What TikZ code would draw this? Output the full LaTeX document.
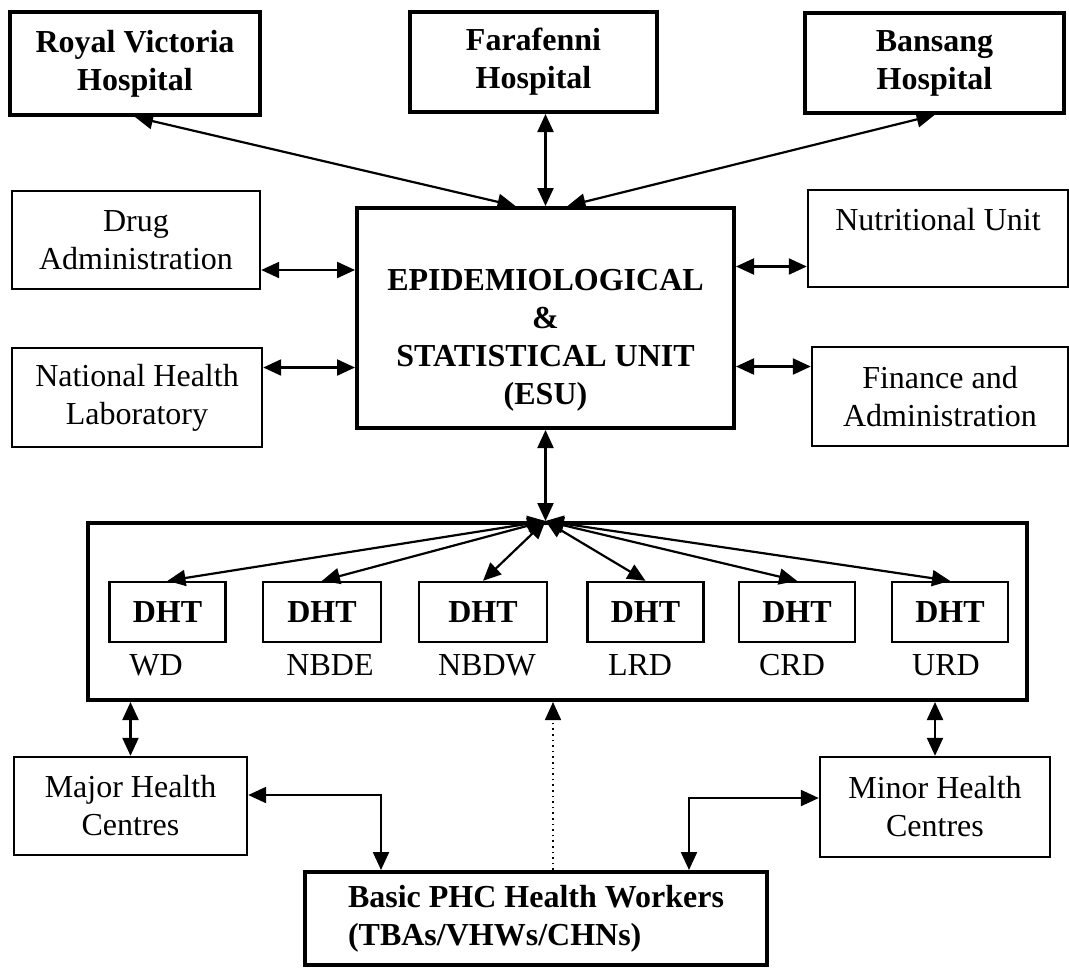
\documentclass[tikz,border=0pt]{standalone}
\usepackage{fontspec}
\setmainfont{Liberation Serif}
\usetikzlibrary{arrows.meta,calc}
\newcommand{\diagfont}{\fontsize{16}{19}\selectfont}
\tikzset{
  boldbox/.style={draw, line width=2pt, align=center, inner sep=0pt, font=\diagfont\bfseries},
  plainbox/.style={draw, line width=1.2pt, align=center, inner sep=0pt, font=\diagfont},
  dhtbox/.style={draw, line width=1.2pt, inner sep=0pt, minimum width=58pt, minimum height=30pt, font=\diagfont\bfseries},
  distlabel/.style={inner sep=0pt, font=\diagfont},
  link/.style={line width=1.1pt, {Triangle[length=9pt,width=8pt]}-{Triangle[length=9pt,width=8pt]}},
  uplink/.style={line width=0.8pt, dotted, -{Triangle[length=9pt,width=8pt]}},
}
\begin{document}
\begin{tikzpicture}[x=0.5pt, y=-0.5pt]
    \useasboundingbox (0,0) rectangle (1069,970);

    % hospitals
    \node[boldbox, minimum width=125pt, minimum height=51.5pt] (rvh) at (135,63.5) {Royal Victoria\\Hospital};
    \node[boldbox, minimum width=123.5pt, minimum height=50pt] (far) at (533.5,62) {Farafenni\\Hospital};
    \node[boldbox, minimum width=129.5pt, minimum height=50pt] (ban) at (934.5,63) {Bansang\\Hospital};

    % central unit and partners
    \node[boldbox, minimum width=188.5pt, minimum height=110pt] (esu) at (545.5,318)
        {\rule{0pt}{14pt}\\EPIDEMIOLOGICAL\\\&\\STATISTICAL UNIT\\(ESU)};
    \node[plainbox, minimum width=124pt, minimum height=49pt] (drug) at (136,240) {Drug\\Administration};
    \node[plainbox, minimum width=125pt, minimum height=49.5pt] (nhl) at (137,397.5) {National Health\\Laboratory};
    \node[plainbox, minimum width=130pt, minimum height=48.5pt] (nut) at (938,238.5) {Nutritional Unit\\\mbox{}};
    \node[plainbox, minimum width=128pt, minimum height=49.5pt] (fin) at (940,396.5) {Finance and\\Administration};

    % district health teams
    \node[draw, line width=2pt, minimum width=469.5pt, minimum height=88.5pt] (dhtframe) at (557.5,611.5) {};
    \node[dhtbox] (d1) at (167.5,612) {DHT};
    \node[dhtbox, minimum width=59pt] (d2) at (322,612) {DHT};
    \node[dhtbox, minimum width=64pt] (d3) at (483,612) {DHT};
    \node[dhtbox] (d4) at (645.5,612) {DHT};
    \node[dhtbox] (d5) at (797,612) {DHT};
    \node[dhtbox] (d6) at (950,612) {DHT};
    \node[distlabel] (l1) at (156,665) {WD};
    \node[distlabel] (l2) at (330,665) {NBDE};
    \node[distlabel] (l3) at (487,665) {NBDW};
    \node[distlabel] (l4) at (640,665) {LRD};
    \node[distlabel] (l5) at (792,665) {CRD};
    \node[distlabel] (l6) at (946,665) {URD};
    \coordinate (hub) at (dhtframe.north -| esu.south);

    % health centres and workers
    \node[plainbox, minimum width=116.5pt, minimum height=49pt] (major) at (130.5,806) {Major Health\\Centres};
    \node[plainbox, minimum width=115pt, minimum height=50pt] (minor) at (935,807) {Minor Health\\Centres};
    \node[boldbox, align=left, minimum width=231pt, minimum height=46.5pt] (basic) at (536,918.5)
        {Basic PHC Health Workers\\(TBAs/VHWs/CHNs)};

    % links to hospitals
    \draw[link] (rvh.south) -- ([xshift=-15pt]esu.north);
    \draw[link] (esu.north |- far.south) -- (esu.north);
    \draw[link] (ban.south) -- ([xshift=11pt]esu.north);

    % links to partners
    \draw[link] ([yshift=-15pt]drug.east) -- ([yshift=-15pt]drug.east -| esu.west);
    \draw[link] ([yshift=15pt]nhl.east) -- ([yshift=15pt]nhl.east -| esu.west);
    \draw[link] ([yshift=-14pt]nut.west) -- ([yshift=-14pt]nut.west -| esu.east);
    \draw[link] ([yshift=15pt]fin.west) -- ([yshift=15pt]fin.west -| esu.east);

    % links to districts
    \draw[link] (esu.south) -- (hub);
    \foreach \d in {d1,d2,d3,d4,d5,d6}
        \draw[link] (hub) -- (\d.north);

    % links below
    \draw[link] (major.north) -- (major.north |- dhtframe.south);
    \draw[link] (minor.north) -- (minor.north |- dhtframe.south);
    \draw[link] ([yshift=5.5pt]major.east) -| ([xshift=39pt]basic.north west);
    \draw[link] ([yshift=4.5pt]minor.west) -| ([xshift=-40pt]basic.north east);
    \draw[uplink] ([xshift=8.5pt]basic.north) -- ([xshift=8.5pt]basic.north |- dhtframe.south);
\end{tikzpicture}
\end{document}
